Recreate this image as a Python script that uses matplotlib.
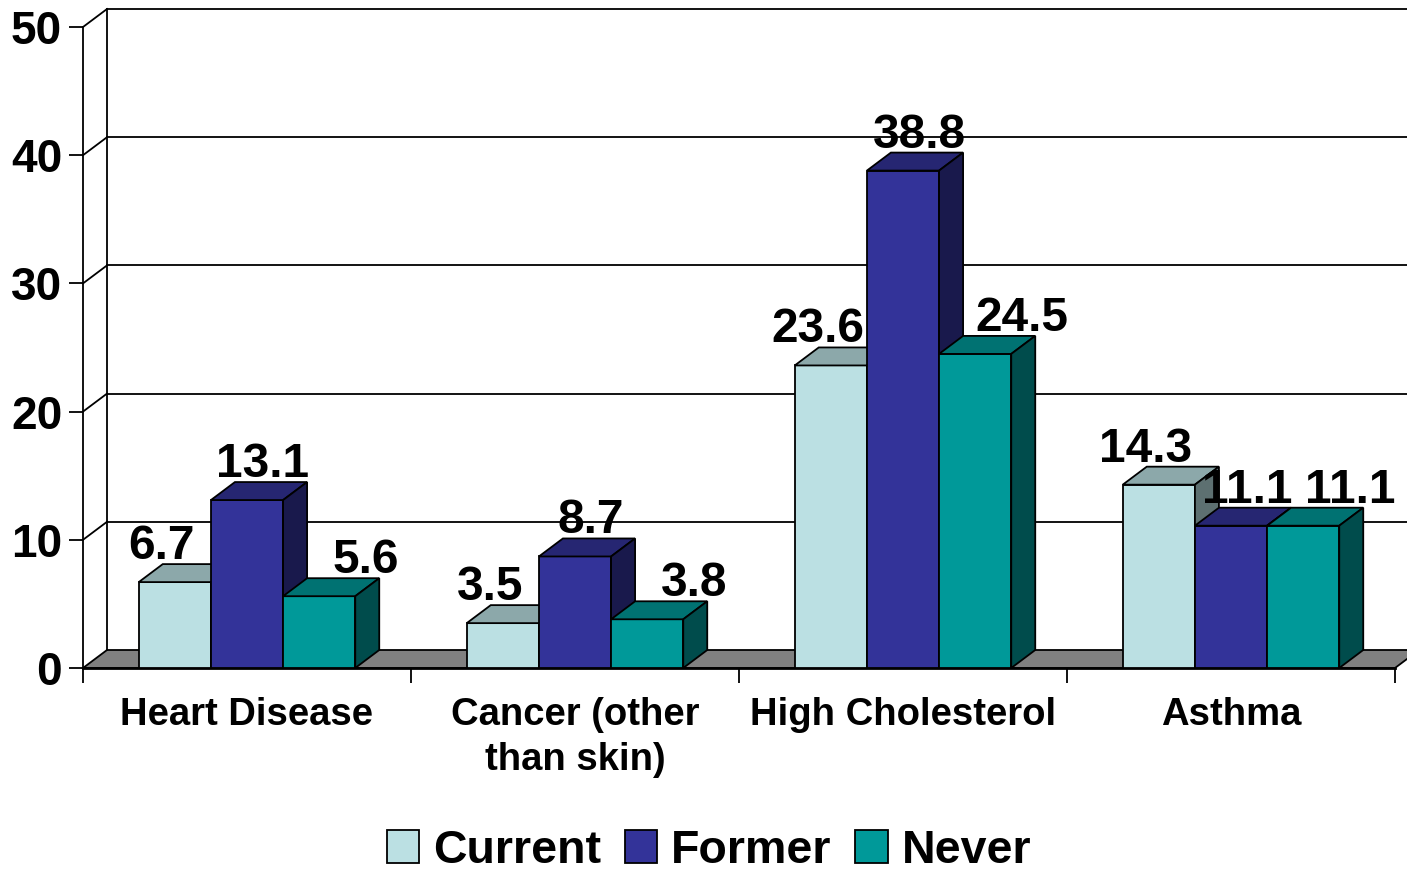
import matplotlib
matplotlib.use("Agg")
import matplotlib.pyplot as plt
from matplotlib.patches import Rectangle, Polygon, Patch

plt.rcParams['font.family'] = ['Liberation Sans', 'DejaVu Sans']
plt.rcParams['font.weight'] = 'bold'

# ---- data -------------------------------------------------------------
categories = ["Heart Disease", "Cancer (other\nthan skin)", "High Cholesterol", "Asthma"]
series_names = ["Current", "Former", "Never"]
current = [6.7, 3.5, 23.6, 14.3]
former = [13.1, 8.7, 38.8, 11.1]
never = [5.6, 3.8, 24.5, 11.1]
y_ticks = [0, 10, 20, 30, 40, 50]

# ---- style ------------------------------------------------------------
front_colors = ["#BBE0E3", "#333399", "#009999"]


def shade(hex_color, k):
    r, g, b = (int(hex_color[i:i + 2], 16) for i in (1, 3, 5))
    return "#{:02X}{:02X}{:02X}".format(int(r * k), int(g * k), int(b * k))


top_colors = [shade(c, 0.75) for c in front_colors]
side_colors = [shade(c, 0.5) for c in front_colors]
label_dx_px = [-13, 16, 47]       # horizontal nudge of value labels per series
bar_w = 0.22
depth_px = (24, -18)              # 3-D depth of walls and bars, in pixels
W, H = 1407, 877
ax_left, ax_right, ax_bottom, ax_top = 83, 1395, 668, 27  # pixel bounds of front plane

fig = plt.figure(figsize=(W / 100, H / 100), dpi=100)
ax = fig.add_axes([ax_left / W, (H - ax_bottom) / H,
                   (ax_right - ax_left) / W, (ax_bottom - ax_top) / H])
ncat = len(categories)
ymax = y_ticks[-1]
ax.set_xlim(0, ncat)
ax.set_ylim(0, ymax)

px_x = ncat / (ax_right - ax_left)
px_y = ymax / (ax_bottom - ax_top)
dx = depth_px[0] * px_x
dy = -depth_px[1] * px_y

lw = 1.3
# floor
ax.add_patch(Polygon([(0, 0), (ncat, 0), (ncat + dx, dy), (dx, dy)], closed=True,
                     facecolor="#808080", edgecolor="black", lw=lw, clip_on=False, zorder=1))
# back wall gridlines, side-wall diagonals
for v in y_ticks[1:]:
    ax.plot([dx, ncat + dx], [v + dy, v + dy], color="black", lw=lw, clip_on=False, zorder=1.5)
    ax.plot([0, dx], [v, v + dy], color="black", lw=lw, clip_on=False, zorder=1.5)
ax.plot([dx, dx], [dy, ymax + dy], color="black", lw=lw, clip_on=False, zorder=1.5)

# bars
series = [current, former, never]
for i in range(ncat):
    for j, vals in enumerate(series):
        h = vals[i]
        x0 = i + 0.5 + (j - 1.5) * bar_w
        z = 3 + i * 3 + j
        ax.add_patch(Rectangle((x0, 0), bar_w, h, facecolor=front_colors[j],
                               edgecolor="black", lw=lw, clip_on=False, zorder=z))
        ax.add_patch(Polygon([(x0, h), (x0 + bar_w, h), (x0 + bar_w + dx, h + dy), (x0 + dx, h + dy)],
                             closed=True, facecolor=top_colors[j], edgecolor="black", lw=lw,
                             clip_on=False, zorder=z))
        ax.add_patch(Polygon([(x0 + bar_w, 0), (x0 + bar_w + dx, dy), (x0 + bar_w + dx, h + dy), (x0 + bar_w, h)],
                             closed=True, facecolor=side_colors[j], edgecolor="black", lw=lw,
                             clip_on=False, zorder=z))
        ax.text(x0 + bar_w / 2 + label_dx_px[j] * px_x, h + dy + 5 * px_y, f"{h:.1f}",
                ha="center", va="baseline", fontsize=34.5, fontweight="bold", zorder=50,
                clip_on=False)

# axes
for s in ["top", "right"]:
    ax.spines[s].set_visible(False)
ax.spines["left"].set_linewidth(lw)
ax.spines["bottom"].set_linewidth(2)
ax.spines["bottom"].set_zorder(2)
ax.set_yticks(y_ticks)
ax.set_yticklabels([str(t) for t in y_ticks])
ax.tick_params(axis="y", direction="out", length=10, width=lw, pad=5, labelsize=33)
ax.set_xticks(range(ncat + 1))
ax.set_xticklabels([])
ax.tick_params(axis="x", which="major", direction="out", length=11, width=lw)
ax.set_xticks([i + 0.5 for i in range(ncat)], minor=True)
ax.set_xticklabels(categories, minor=True, fontsize=27.5, fontweight="bold", linespacing=1.3)
ax.tick_params(axis="x", which="minor", length=0, pad=21)
ax.set_facecolor("none")

handles = [Patch(facecolor=c, edgecolor="black", lw=1.3) for c in front_colors]
fig.legend(handles, series_names, loc="center", bbox_to_anchor=(709 / W, 26 / H),
           ncol=3, frameon=False, handlelength=0.7, handleheight=0.7,
           handletextpad=0.3, columnspacing=0.5, borderpad=0,
           prop={"weight": "bold", "size": 33.5})

fig.savefig("out.png", dpi=100)
